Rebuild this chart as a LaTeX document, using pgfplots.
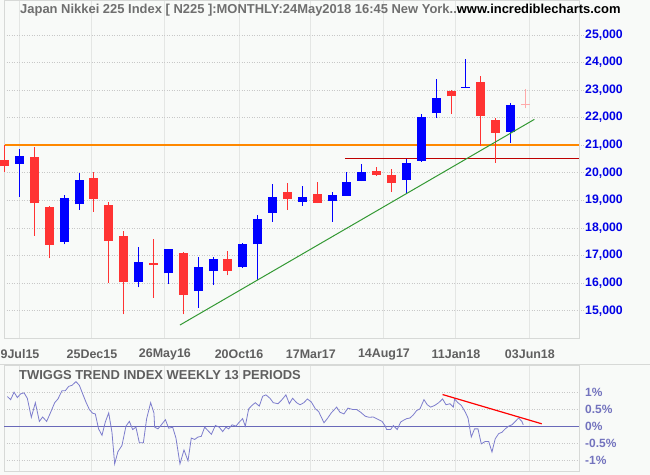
\documentclass[border=0pt]{standalone}
\usepackage{fontspec}
\setmainfont{Liberation Sans}
\usepackage{pgfplots}
\usepackage{pgfplotstable}
\pgfplotsset{compat=1.18}

\definecolor{bg}{RGB}{248,250,248}
\definecolor{cred}{RGB}{255,51,51}
\definecolor{cblue}{RGB}{0,0,255}
\definecolor{cpink}{RGB}{255,170,170}
\definecolor{corange}{RGB}{255,136,0}
\definecolor{cdred}{RGB}{190,0,0}
\definecolor{cgreen}{RGB}{51,153,51}
\definecolor{slate}{RGB}{125,125,205}
\definecolor{slatedark}{RGB}{105,105,185}
\definecolor{slatetxt}{RGB}{115,115,190}
\definecolor{gridv}{RGB}{228,230,228}
\definecolor{gridh}{RGB}{200,200,200}
\definecolor{frame}{RGB}{215,217,215}
\definecolor{txtgray}{RGB}{95,95,95}
\definecolor{ytk}{RGB}{0,0,230}

% month index: 0 = Jun 2015
\pgfplotstableread{
i o h l c
1 20320 20850 19130 20600
4 17500 19190 17400 19083
5 18850 19990 18660 19747
9 16040 17291 15850 16759
11 16357 17251 15975 17235
13 15710 16958 15107 16569
14 16430 16958 15923 16887
16 16573 17464 16560 17425
17 17402 18473 16111 18308
18 18556 19592 18232 19114
20 18953 19519 18809 19119
22 18989 19302 18224 19197
23 19169 20024 19160 19651
24 19710 20318 19700 20033
27 19746 20492 19255 20356
28 20432 22115 20396 22012
29 22162 23413 21982 22725
31 23073 24135 23073 23110
34 21477 22512 21080 22468
}\upcandles

\pgfplotstableread{
i o h l c
0 20460 20990 20010 20240
2 20580 20950 17714 18890
3 18770 18790 16901 17388
6 19800 20012 18590 19034
7 18830 18951 16017 17518
8 17716 17905 14865 16027
10 16720 17613 15471 16666
12 17100 17140 14864 15576
15 16890 17175 16284 16450
19 19302 19627 18664 19041
21 19230 19663 18900 18909
25 20060 20204 19890 19925
26 19915 20132 19313 19646
30 22945 23017 22126 22765
32 23305 23522 20986 22068
33 21899 21971 20360 21454
}\downcandles

\pgfplotstableread{
i o h l c
35 22475 23053 22332 22440
}\curcandle

\pgfplotstableread{
i v
0.18 0.88
0.40 0.79
0.63 1.01
0.85 0.85
1.07 0.96
1.30 0.99
1.52 0.83
1.79 0.27
2.06 0.70
2.33 0.15
2.55 0.28
2.82 0.15
3.09 0.42
3.36 0.70
3.58 0.81
3.85 1.05
4.07 1.05
4.30 1.18
4.52 1.21
4.79 1.32
5.02 1.21
5.24 0.96
5.46 0.72
5.69 0.50
5.91 0.39
6.09 0.37
6.31 -0.07
6.54 -0.26
6.76 0.13
6.99 0.40
7.21 -0.17
7.39 -1.10
7.61 -0.74
7.88 -0.56
8.15 0.01
8.38 0.15
8.60 -0.09
8.82 -0.02
9.05 -0.48
9.32 -0.48
9.54 0.23
9.81 0.70
10.03 0.40
10.08 -0.02
10.30 -0.07
10.53 0.05
10.80 0.20
11.02 -0.05
11.29 -0.02
11.51 -0.34
11.78 -1.10
12.05 -0.69
12.32 -1.01
12.54 -0.34
12.77 -0.38
12.99 -0.31
13.21 -0.29
13.44 -0.02
13.66 -0.12
13.89 -0.23
14.16 0.03
14.42 -0.02
14.65 -0.15
14.87 -0.02
15.05 -0.07
15.28 0.05
15.54 0.01
15.77 0.13
15.99 0.23
16.17 0.01
16.40 0.52
16.62 0.62
16.84 0.70
17.11 0.60
17.34 0.89
17.56 0.93
17.83 0.83
18.05 0.70
18.37 0.67
18.64 0.79
18.90 0.93
19.13 0.67
19.35 0.83
19.62 0.70
19.85 0.64
20.11 0.70
20.34 0.81
20.61 0.72
20.88 0.52
21.10 0.44
21.46 0.11
21.68 0.23
21.95 0.40
22.31 0.57
22.53 0.42
22.80 0.37
23.07 0.54
23.39 0.50
23.65 0.50
23.92 0.42
24.24 0.30
24.50 0.27
24.77 0.28
25.09 0.21
25.36 0.15
25.58 0.01
25.67 -0.09
25.94 -0.09
26.12 0.03
26.38 -0.09
26.61 0.13
26.79 0.18
27.01 0.23
27.24 0.25
27.46 0.34
27.69 0.47
27.91 0.52
28.18 0.79
28.40 0.64
28.63 0.57
28.90 0.62
29.17 0.70
29.43 0.81
29.66 0.64
29.93 0.67
30.15 0.57
30.24 0.81
30.46 0.70
30.69 0.62
30.96 0.42
31.14 0.25
31.36 -0.31
31.58 -0.07
31.81 -0.07
32.03 -0.51
32.30 -0.44
32.53 -0.44
32.75 -0.75
32.97 -0.36
33.20 -0.21
33.42 -0.17
33.64 -0.07
33.87 0.01
34.09 0.05
34.32 0.15
34.54 0.25
34.76 0.15
34.85 0.05
}\twiggs

\pgfplotsset{
  wick/.style={draw=none, mark=none, forget plot,
    error bars/.cd, y dir=plus, y explicit, error mark=none,
    error bar style={draw=#1, line width=1bp}},
  cbody/.style={draw=none, mark=none, forget plot,
    error bars/.cd, y dir=plus, y explicit, error mark=none,
    error bar style={draw=#1, line width=9bp, line cap=butt}},
}

\begin{document}
\begin{tikzpicture}[x=1bp,y=1bp]
\fill[bg] (0,0) rectangle (650,475);

\begin{axis}[
  at={(4bp,475bp)}, anchor=north west, scale only axis,
  width=575bp, height=338.3bp,
  xmin=-0.047, xmax=38.6, ymin=14000, ymax=26262,
  clip=false,
  axis line style={draw=frame},
  xtick={1.028,5.867,10.77,15.75,20.58,25.49,30.33,35.30},
  xticklabels={9Jul15,25Dec15,26May16,20Oct16,17Mar17,14Aug17,11Jan18,03Jun18},
  xmajorgrids, major x grid style={draw=gridv, line width=1bp},
  xtick style={draw=none},
  ytick={15000,16000,17000,18000,19000,20000,21000,22000,23000,24000,25000},
  yticklabels={{15,000},{16,000},{17,000},{18,000},{19,000},{20,000},{21,000},{22,000},{23,000},{24,000},{25,000}},
  ymajorgrids, major y grid style={draw=gridh, line width=0.6bp, dash pattern=on 1bp off 1.5bp},
  ytick pos=right, yticklabel pos=right,
  ytick style={draw=gridh, line width=0.6bp, dash pattern=on 1bp off 1.5bp},
  tick align=outside, major tick length=5bp,
  xticklabel style={font=\bfseries\fontsize{12.5}{14}\selectfont, text=txtgray, anchor=center, yshift=-11bp},
  yticklabel style={font=\bfseries\fontsize{12.3}{14}\selectfont, text=ytk, anchor=west, inner sep=0pt, xshift=1bp},
]
\addplot[draw=corange, line width=1.4bp, forget plot] coordinates {(0,21000) (38.6,21000)};
\addplot[draw=cdred, line width=1bp, forget plot] coordinates {(22.87,20530) (38.6,20530)};

\addplot[wick=cblue] table[x=i, y=l, y error plus expr={\thisrow{h}-\thisrow{l}}] {\upcandles};
\addplot[cbody=cblue] table[x=i, y expr={min(\thisrow{o},\thisrow{c})}, y error plus expr={max(abs(\thisrow{c}-\thisrow{o}),40)}] {\upcandles};
\addplot[wick=cred] table[x=i, y=l, y error plus expr={\thisrow{h}-\thisrow{l}}] {\downcandles};
\addplot[cbody=cred] table[x=i, y expr={min(\thisrow{o},\thisrow{c})}, y error plus expr={max(abs(\thisrow{c}-\thisrow{o}),40)}] {\downcandles};
\addplot[wick=cpink] table[x=i, y=l, y error plus expr={\thisrow{h}-\thisrow{l}}] {\curcandle};
\addplot[cbody=cpink] table[x=i, y expr={min(\thisrow{o},\thisrow{c})}, y error plus expr={max(abs(\thisrow{c}-\thisrow{o}),40)}] {\curcandle};

\addplot[draw=cgreen, line width=1bp, forget plot] coordinates {(11.78,14481) (35.6,21935)};
\end{axis}

\begin{axis}[
  at={(4bp,4bp)}, anchor=south west, scale only axis,
  width=575bp, height=106bp,
  xmin=-0.047, xmax=38.6, ymin=-1.309, ymax=1.809,
  axis line style={draw=frame},
  xtick={1.028,5.867,10.77,15.75,20.58,25.49,30.33,35.30},
  xticklabels={},
  xmajorgrids, major x grid style={draw=gridv, line width=1bp},
  xtick style={draw=none},
  ytick={-1,-0.5,0,0.5,1},
  yticklabels={-1\%,-0.5\%,0\%,0.5\%,1\%},
  ymajorgrids, major y grid style={draw=gridh, line width=0.6bp, dash pattern=on 1bp off 1.5bp},
  ytick pos=right, yticklabel pos=right,
  ytick style={draw=none},
  yticklabel style={font=\bfseries\fontsize{12}{14}\selectfont, text=slatetxt, anchor=west, inner sep=0pt, xshift=6bp},
]
\addplot[draw=slatedark, line width=1.1bp, forget plot] coordinates {(-0.047,0) (38.6,0)};
\addplot[draw=slate, line width=0.8bp, forget plot] table[x=i, y=v] {\twiggs};
\addplot[draw=red, line width=1.2bp, forget plot] coordinates {(29.43,0.94) (36.09,0.08)};
\end{axis}

\draw[frame, line width=1bp] (0,110) -- (650,110);

\node[anchor=west, inner sep=0pt] at (20,465) {\bfseries\fontsize{13}{15}\selectfont\textcolor{txtgray!90}{Japan Nikkei 225 Index [ N225 ]:MONTHLY:24May2018 16:45 New York..}\textcolor{black}{www.incrediblecharts.com}};
\node[anchor=west, inner sep=0pt] at (19,100) {\bfseries\fontsize{13}{15}\selectfont\textcolor{txtgray}{TWIGGS TREND INDEX WEEKLY 13 PERIODS}};

\pgfresetboundingbox
\useasboundingbox (0,0) rectangle (650,475);
\end{tikzpicture}
\end{document}
